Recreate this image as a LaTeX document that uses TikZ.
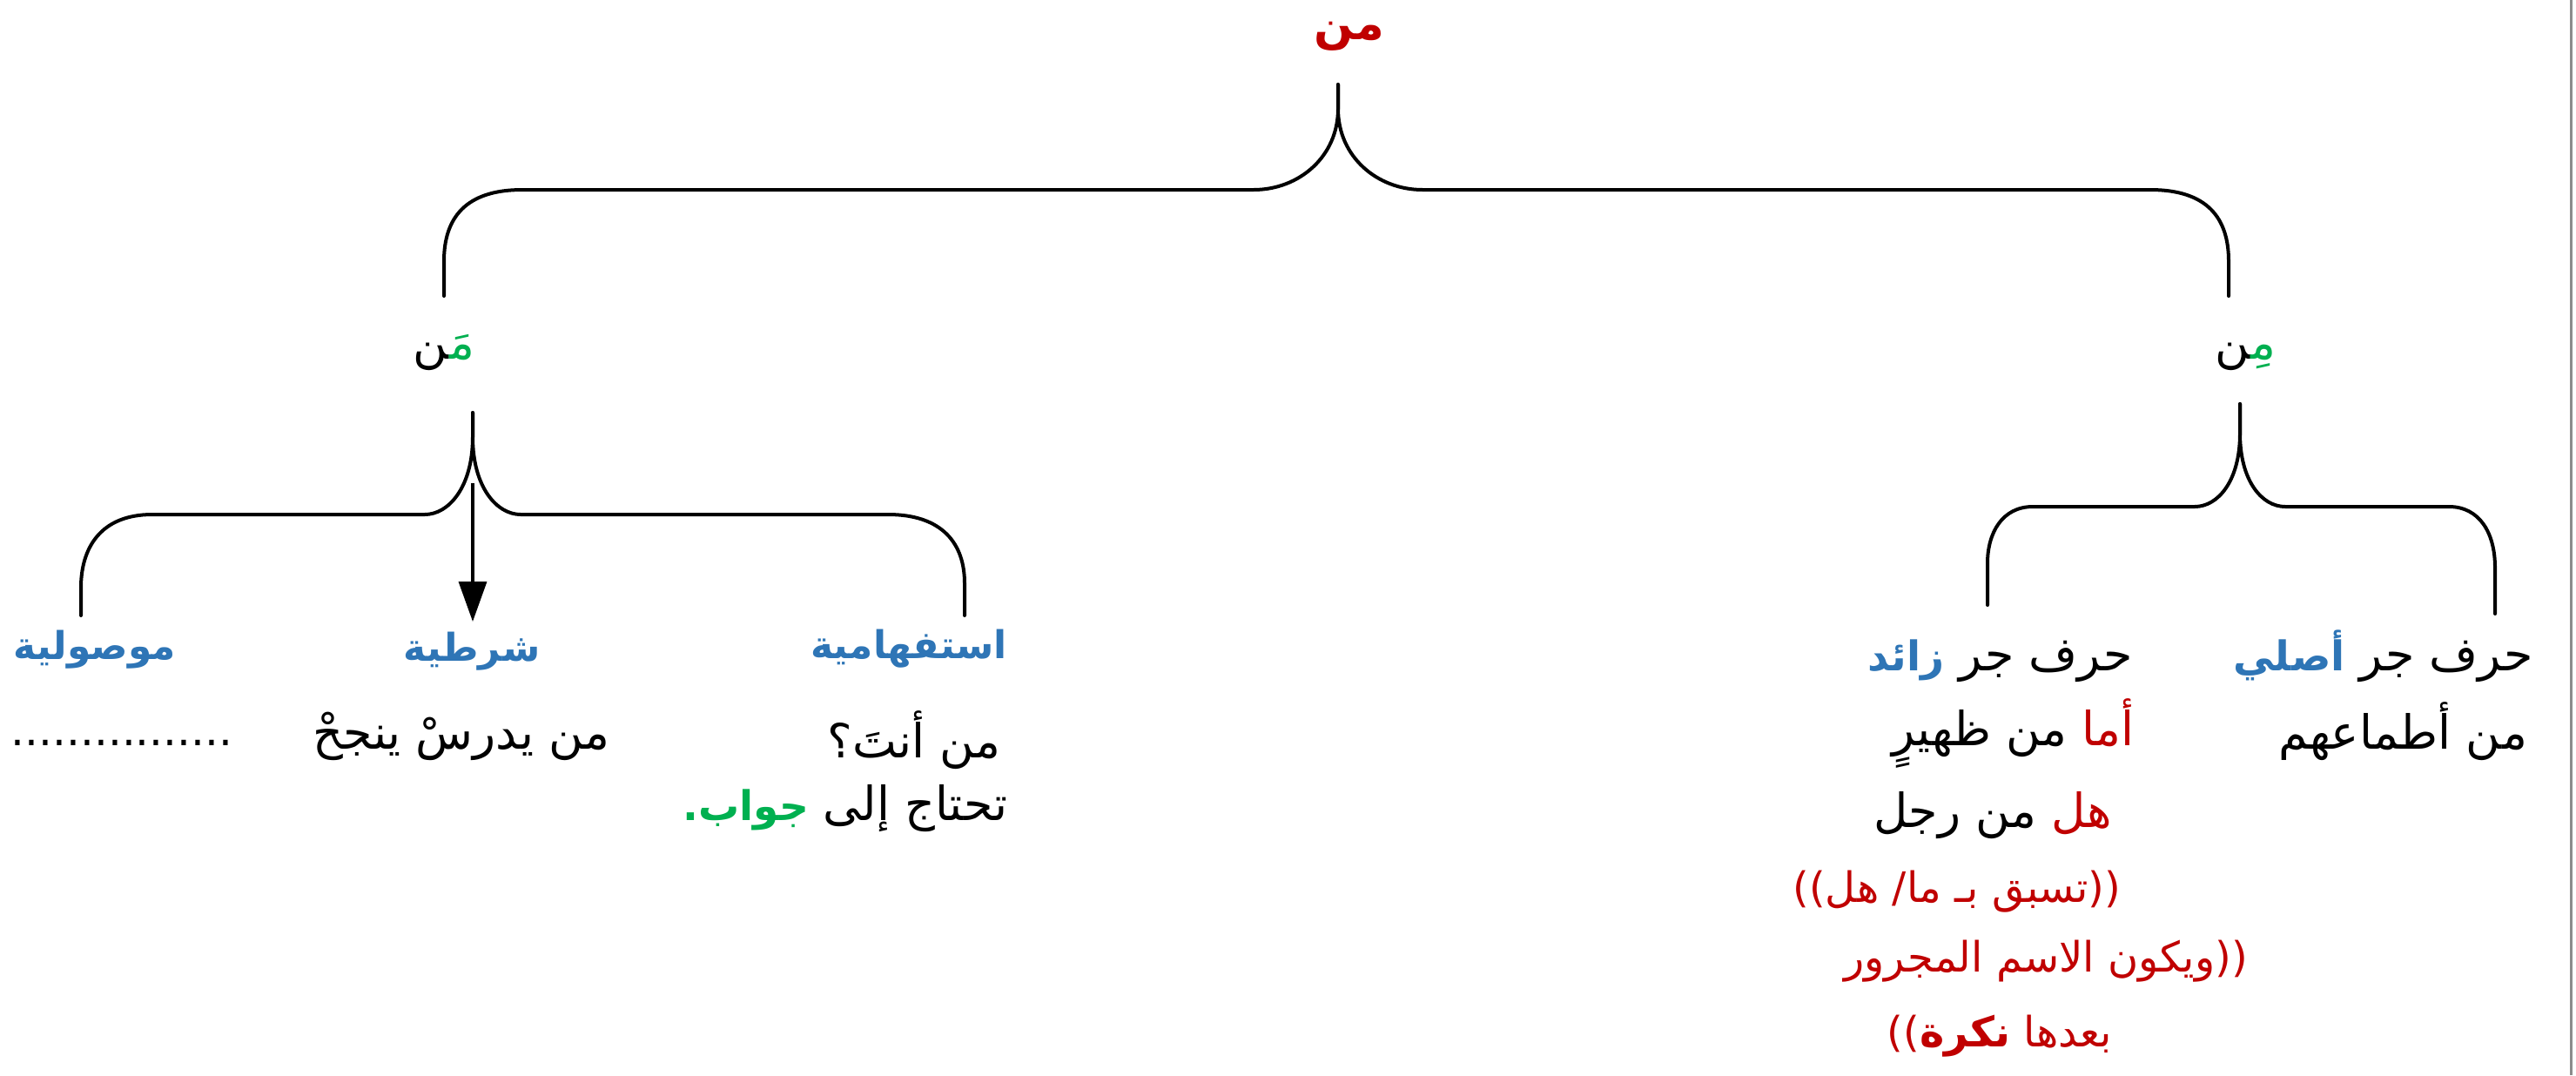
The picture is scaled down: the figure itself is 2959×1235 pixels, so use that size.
\documentclass[tikz,border=0pt]{standalone}
\usepackage{fontspec}
\usepackage{xcolor}
\usetikzlibrary{arrows.meta}
\TeXXeTstate=1
\newfontfamily\arfont[Script=Arabic]{DejaVu Sans}
\definecolor{myred}{HTML}{C00000}
\definecolor{myblue}{HTML}{2E75B6}
\definecolor{mygreen}{HTML}{00B050}
\newcommand\AR[1]{\beginR #1\endR}
\newcommand\ZWJ{^^^^200d}
\tikzset{
  bracestyle/.style={line width=4pt, line cap=round, line join=round},
  txt/.style={inner sep=0pt, outer sep=0pt, font=\arfont\fontsize{54}{64}\selectfont},
  boldword/.style={inner sep=0pt, outer sep=0pt, font=\arfont\bfseries\fontsize{47}{56}\selectfont},
  headtxt/.style={txt, font=\arfont\bfseries\fontsize{44}{53}\selectfont, text=myblue},
  roottxt/.style={txt, font=\arfont\bfseries\fontsize{53}{62}\selectfont, text=myred},
  notetxt/.style={txt, font=\arfont\fontsize{48}{58}\selectfont, text=myred},
  dotstxt/.style={inner sep=0pt, font=\arfont\fontsize{50}{60}\selectfont},
  arrowstyle/.style={line width=3.5pt, -{Triangle[length=46pt,width=32pt]}},
  edgeline/.style={line width=3pt, draw=black!45},
}
\begin{document}
\begin{tikzpicture}[x=1pt,y=-1pt]
\useasboundingbox (0,0) rectangle (2959,1235);
\fill[white] (0,0) rectangle (2959,1235);

% ---- top ----
\node[roottxt] (root) at (1550,42) {\AR{من}};
% single words with one coloured letter: the two joined halves in visual order
\node[txt] (man) at (510,405) {\ZWJ ن{\color{mygreen}مَ\ZWJ}};
\node[txt] (min) at (2579,410) {\ZWJ ن{\color{mygreen}مِ\ZWJ}};

% ---- headings ----
\node[headtxt] (mawsul) at (109,746) {\AR{موصولية}};
\node[headtxt] (shart) at (542,748) {\AR{شرطية}};
\node[headtxt] (istif) at (1044,745) {\AR{استفهامية}};

\node[txt, anchor=base east] (zaidA) at (2450,770) {\AR{حرف جر}};
\node[boldword, text=myblue, anchor=base east] (zaidB) at ([xshift=-17pt]zaidA.base west) {\AR{زائد}};
\node[txt, anchor=base east] (asliA) at (2910,770) {\AR{حرف جر}};
\node[boldword, text=myblue, anchor=base east] (asliB) at ([xshift=-17pt]asliA.base west) {\AR{أصلي}};

% ---- examples ----
\node[dotstxt] (dots) at (140,853) {................};
\node[txt] (shartex) at (530,846) {\AR{من يدرسْ ينجحْ}};
\node[txt] (istifex) at (1050,850) {\AR{من أنتَ؟}};
\node[txt, anchor=base east] (istifA) at (1157,942) {\AR{تحتاج إلى}};
\node[boldword, text=mygreen, anchor=base east] (istifB) at ([xshift=-17pt]istifA.base west) {\AR{جواب.}};

\node[txt, anchor=base west] (zaidex1B) at (2173,856) {\AR{من ظهيرٍ}};
\node[txt, text=myred, anchor=base west] (zaidex1A) at ([xshift=17pt]zaidex1B.base east) {\AR{أما}};
\node[txt] (asliex) at (2760,840) {\AR{من أطماعهم}};
\node[txt, anchor=base west] (zaidex2B) at (2152,950) {\AR{من رجل}};
\node[txt, text=myred, anchor=base west] (zaidex2A) at ([xshift=17pt]zaidex2B.base east) {\AR{هل}};

\node[notetxt] (note1) at (2248,1024) {\AR{((تسبق بـ ما/ هل))}};
\node[notetxt] (note2) at (2350,1104) {\AR{((ويكون الاسم المجرور}};
\node[notetxt] (note3) at (2297,1190) {\AR{بعدها {\bfseries نكرة}))}};

% ---- braces ----
\coordinate (rootTip) at (1537,97);
\draw[bracestyle] (rootTip) -- (1537,125) .. controls (1537,180) and (1492,218) .. (1440,218)
  -- (600,218) .. controls (535,218) and (510,250) .. (510,300) -- (510,340);
\draw[bracestyle] (rootTip) -- (1537,125) .. controls (1537,180) and (1582,218) .. (1634,218)
  -- (2470,218) .. controls (2535,218) and (2560,250) .. (2560,300) -- (2560,340);

\coordinate (manTip) at (543,474);
\draw[bracestyle] (manTip) -- (543,502) .. controls (543,560) and (515,591) .. (488,591)
  -- (175,591) .. controls (115,591) and (93,630) .. (93,675) -- (93,707);
\draw[bracestyle] (manTip) -- (543,502) .. controls (543,560) and (571,591) .. (598,591)
  -- (1020,591) .. controls (1083,591) and (1108,625) .. (1108,670) -- (1108,707);

\coordinate (minTip) at (2573,464);
\draw[bracestyle] (minTip) -- (2573,498) .. controls (2573,552) and (2548,582) .. (2521,582)
  -- (2335,582) .. controls (2300,582) and (2283,612) .. (2283,647) -- (2283,695);
\draw[bracestyle] (minTip) -- (2573,498) .. controls (2573,552) and (2598,582) .. (2625,582)
  -- (2813,582) .. controls (2848,582) and (2866,612) .. (2866,652) -- (2866,705);

% ---- arrow ----
\coordinate (arrS) at (543,555);
\coordinate (arrE) at (543,714);
\draw[arrowstyle] (arrS) -- (arrE);

% ---- page edge ----
\draw[edgeline] (2953,0) -- (2953,1235);
\end{tikzpicture}
\end{document}
